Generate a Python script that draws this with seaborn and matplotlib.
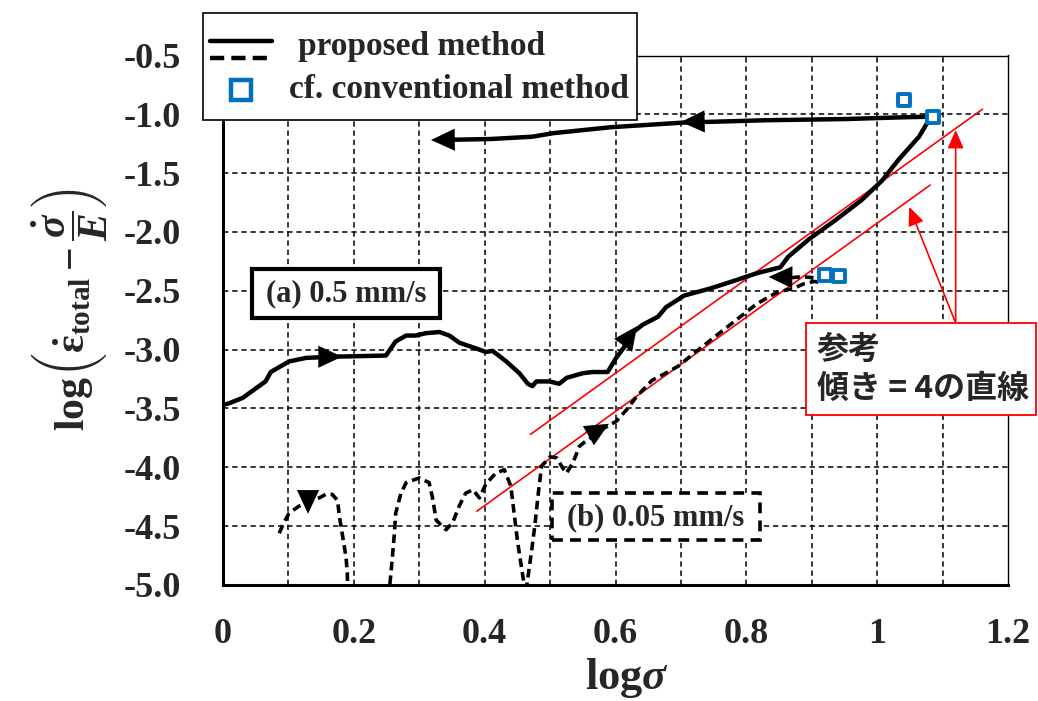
import matplotlib
matplotlib.use("Agg")
import matplotlib.pyplot as plt
import matplotlib.patches as mpatches
from matplotlib.lines import Line2D
import seaborn as sns
import numpy as np

# ---------------- data ----------------
# (a) 0.5 mm/s : loading path then unloading path along the top
a_x = [0.000, 0.009, 0.030, 0.050, 0.065, 0.073, 0.101, 0.127, 0.167, 0.249, 0.264, 0.280,
       0.295, 0.310, 0.331, 0.346, 0.361, 0.387, 0.402, 0.412, 0.433, 0.453, 0.466, 0.473,
       0.479, 0.499, 0.514, 0.525, 0.550, 0.565, 0.588, 0.601, 0.613, 0.625, 0.641, 0.665,
       0.677, 0.705, 0.745, 0.784, 0.816, 0.852, 0.864, 0.896, 0.936, 0.976, 1.008, 1.032,
       1.064, 1.080, 1.083, 1.040, 0.952, 0.832, 0.704, 0.592, 0.505, 0.473, 0.408, 0.340]
a_y = [-3.47, -3.456, -3.41, -3.33, -3.27, -3.19, -3.10, -3.07, -3.06, -3.05, -2.93, -2.88,
       -2.88, -2.86, -2.85, -2.88, -2.94, -2.99, -3.02, -3.01, -3.10, -3.20, -3.29, -3.31,
       -3.27, -3.27, -3.29, -3.24, -3.20, -3.19, -3.19, -3.07, -2.98, -2.86, -2.79, -2.72,
       -2.64, -2.54, -2.48, -2.41, -2.35, -2.30, -2.21, -2.06, -1.90, -1.73, -1.56, -1.39,
       -1.19, -1.04, -1.02, -1.025, -1.04, -1.05, -1.07, -1.11, -1.16, -1.19, -1.21, -1.217]

# (b) 0.05 mm/s (values below -5.0 are outside the plotted range)
b_x = [0.086, 0.093, 0.101, 0.116, 0.132, 0.147, 0.157, 0.167, 0.175, 0.178, 0.183, 0.188,
       0.190, 0.192, 0.252, 0.255, 0.259, 0.262, 0.264, 0.272, 0.280, 0.300, 0.315, 0.320,
       0.326, 0.341, 0.351, 0.361, 0.371, 0.382, 0.392, 0.402, 0.417, 0.430, 0.440, 0.445,
       0.450, 0.456, 0.461, 0.464, 0.467, 0.472, 0.477, 0.482, 0.487, 0.500, 0.510, 0.521,
       0.525, 0.535, 0.545, 0.554, 0.565, 0.578, 0.601, 0.617, 0.632, 0.656, 0.680, 0.696,
       0.720, 0.752, 0.784, 0.816, 0.848, 0.872, 0.888, 0.904, 0.913, 0.920, 0.905, 0.885,
       0.865, 0.855]
b_y = [-4.56, -4.47, -4.39, -4.33, -4.29, -4.26, -4.23, -4.23, -4.28, -4.42, -4.59, -4.76,
       -4.90, -5.30, -5.30, -5.00, -4.76, -4.56, -4.39, -4.22, -4.13, -4.09, -4.13, -4.25,
       -4.45, -4.53, -4.47, -4.33, -4.22, -4.19, -4.26, -4.14, -4.05, -4.02, -4.16, -4.39,
       -4.62, -4.84, -5.02, -5.02, -4.90, -4.70, -4.48, -4.22, -3.99, -3.91, -3.92, -4.02,
       -4.05, -3.96, -3.82, -3.78, -3.74, -3.68, -3.61, -3.51, -3.40, -3.26, -3.19, -3.14,
       -3.03, -2.89, -2.75, -2.61, -2.51, -2.48, -2.44, -2.42, -2.43, -2.41, -2.39, -2.38,
       -2.39, -2.385]

# conventional method points
conv_x = [1.041, 1.085, 0.920, 0.942]
conv_y = [-0.878, -1.025, -2.365, -2.374]

# reference lines of slope 4
ref_slope = 4.0
ref_intercepts = [-5.600, -5.925]
ref_x_ranges = [(0.470, 1.161), (0.388, 1.081)]

# direction arrows on curves: (tail_x, tail_y, tip_x, tip_y)
a_arrows = [(0.150, -3.060, 0.182, -3.060),
            (0.616, -2.930, 0.633, -2.800),
            (0.740, -1.060, 0.700, -1.065),
            (0.365, -1.215, 0.318, -1.218)]
b_arrows = [(0.130, -4.240, 0.130, -4.395),
            (0.562, -3.720, 0.590, -3.630),
            (0.875, -2.385, 0.834, -2.382)]
# red pointer arrows from the annotation box
red_arrows = [(1.120, -2.773, 1.120, -1.133),
              (1.120, -2.773, 1.049, -1.787)]

x_ticks = [0, 0.2, 0.4, 0.6, 0.8, 1.0, 1.2]
x_ticklabels = ["0", "0.2", "0.4", "0.6", "0.8", "1", "1.2"]
y_ticks = [-0.5, -1.0, -1.5, -2.0, -2.5, -3.0, -3.5, -4.0, -4.5, -5.0]
y_ticklabels = ["-0.5", "-1.0", "-1.5", "-2.0", "-2.5", "-3.0", "-3.5", "-4.0", "-4.5", "-5.0"]

# ---------------- style ----------------
sns.set_style("white")
plt.rcParams["font.family"] = ["Liberation Serif", "DejaVu Serif"]
plt.rcParams["font.weight"] = "bold"
plt.rcParams["mathtext.fontset"] = "custom"
plt.rcParams["mathtext.rm"] = "Liberation Serif:bold"
plt.rcParams["mathtext.it"] = "Liberation Serif:italic:bold"
plt.rcParams["mathtext.bf"] = "Liberation Serif:bold"

W, H = 1038, 701
fig = plt.figure(figsize=(W / 100, H / 100), dpi=100)
ax = fig.add_axes([223 / W, 1 - 585 / H, (1008 - 223) / W, (585 - 55.5) / H])

def fx(px):
    return px / W

def fy(py):
    return 1 - py / H

# grid
for gx in np.arange(0.1, 1.15, 0.1):
    ax.axvline(gx, color="k", lw=1.1, ls=(0, (3.5, 2.5)), zorder=1)
for gy in np.arange(-4.5, -0.9, 0.5):
    ax.axhline(gy, color="k", lw=1.1, ls=(0, (3.5, 2.5)), zorder=1)

# curves
sns.lineplot(x=a_x, y=a_y, sort=False, estimator=None, color="k", lw=3.2, ax=ax, zorder=4)
sns.lineplot(x=b_x, y=b_y, sort=False, estimator=None, color="k", lw=2.6, ax=ax, zorder=4)
ax.lines[-1].set_dashes([2.4, 1.4])

# reference lines
for b, (x0, x1) in zip(ref_intercepts, ref_x_ranges):
    xs = [x0, x1]
    ys = [ref_slope * x0 + b, ref_slope * x1 + b]
    sns.lineplot(x=xs, y=ys, sort=False, estimator=None, color="red", lw=1.2, ax=ax, zorder=3)

# arrows on curves
for (tx, ty, hx, hy) in a_arrows + b_arrows:
    ax.annotate("", xy=(hx, hy), xytext=(tx, ty),
                arrowprops=dict(arrowstyle="-|>,head_length=0.9,head_width=0.42",
                                color="k", lw=0, mutation_scale=19,
                                shrinkA=0, shrinkB=0), zorder=5)
for (tx, ty, hx, hy) in red_arrows:
    ax.annotate("", xy=(hx, hy), xytext=(tx, ty),
                arrowprops=dict(arrowstyle="-|>,head_length=0.8,head_width=0.35",
                                color="red", lw=1.2, mutation_scale=14,
                                shrinkA=0, shrinkB=0), zorder=5, annotation_clip=False)

# conventional points
sns.scatterplot(x=conv_x, y=conv_y, marker="s", s=75, facecolor="white",
                edgecolor="#0070C0", linewidth=2.8, ax=ax, zorder=6)

ax.set_xlim(0, 1.2)
ax.set_ylim(-5.0, -0.5)
ax.set_xticks(x_ticks)
ax.set_xticklabels(x_ticklabels, fontsize=26, fontweight="bold")
ax.set_yticks(y_ticks)
ax.set_yticklabels(y_ticklabels, fontsize=26, fontweight="bold")
ax.tick_params(axis="x", length=0, pad=24)
ax.tick_params(axis="y", length=0, pad=30)
for s in ["left", "bottom"]:
    ax.spines[s].set_linewidth(2.2)
    ax.spines[s].set_color("k")
for s in ["top", "right"]:
    ax.spines[s].set_linewidth(1.0)
    ax.spines[s].set_color("k")

ax.set_xlabel(r"log$\sigma$", fontsize=32, fontweight="bold", labelpad=0)
ax.set_ylabel(r"$\mathrm{log}\left(\dot{\mathrm{\varepsilon}}_{\mathrm{total}}-\dfrac{\dot{\sigma}}{E}\right)$",
              fontsize=30, labelpad=10)
ax.yaxis.set_label_coords(-0.145, 0.52)
ax.xaxis.set_label_coords(0.515, -0.135)

# ---------- boxes in figure pixel space ----------
def rect(x0, y0, x1, y1, **kw):
    r = mpatches.Rectangle((fx(x0), fy(y1)), fx(x1) - fx(x0), fy(y0) - fy(y1),
                           transform=fig.transFigure, **kw)
    fig.patches.append(r)
    return r

# legend
rect(203, 13, 637, 120, facecolor="white", edgecolor="k", lw=1.2, zorder=10)
fig.add_artist(Line2D([fx(210), fx(272)], [fy(41), fy(41)], color="k", lw=3.2, zorder=11))
fig.add_artist(Line2D([fx(210), fx(272)], [fy(58), fy(58)], color="k", lw=3.2,
                      dashes=[3.2, 1.6], zorder=11))
fig.text(fx(298), fy(46), "proposed method", fontsize=24, fontweight="bold",
         ha="left", va="center", zorder=12)
fig.add_artist(Line2D([fx(241)], [fy(90)], marker="s", markersize=14, mfc="white",
                      mec="#0070C0", mew=3.2, ls="none", zorder=11))
fig.text(fx(289), fy(89), "cf. conventional method", fontsize=24, fontweight="bold",
         ha="left", va="center", zorder=12)

# (a) box
rect(252, 269, 440, 318, facecolor="white", edgecolor="k", lw=3.0, zorder=7)
fig.text(fx(346), fy(294), "(a) 0.5 mm/s", fontsize=22, fontweight="bold",
         ha="center", va="center", zorder=8)
# (b) box
rect(552, 493, 760, 540, facecolor="white", edgecolor="k", lw=2.6,
     linestyle=(0, (3, 2)), zorder=7)
fig.text(fx(656), fy(518), "(b) 0.05 mm/s", fontsize=22, fontweight="bold",
         ha="center", va="center", zorder=8)
# reference annotation box
rect(806, 323, 1036, 415, facecolor="white", edgecolor="red", lw=1.3, zorder=7)
fig.text(fx(817), fy(350), "参考", fontsize=23, fontweight="bold",
         family=["Noto Sans CJK JP", "DejaVu Sans"], ha="left", va="center", zorder=8)
fig.text(fx(817), fy(389), "傾き = 4の直線", fontsize=23, fontweight="bold",
         family=["Noto Sans CJK JP", "DejaVu Sans"], ha="left", va="center", zorder=8)

fig.savefig("out.png", dpi=100)
